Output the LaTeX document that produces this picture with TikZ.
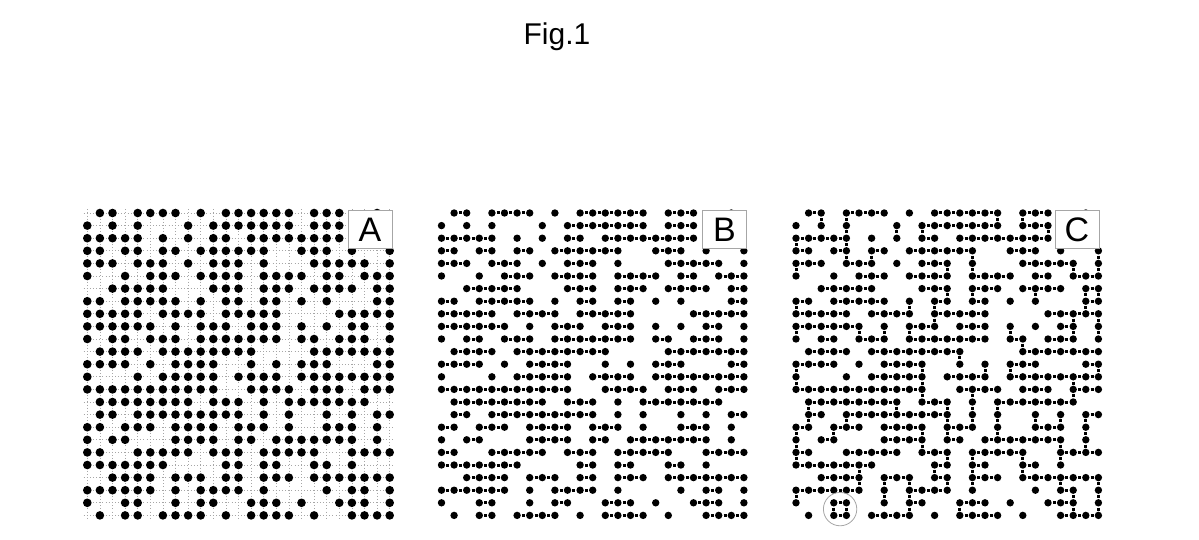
\documentclass[tikz,border=0pt]{standalone}
\usepackage{fontspec}
\setmainfont{Liberation Sans}
\newcommand{\FL}{\fontsize{34}{40}\selectfont}
\newcommand{\FT}{\fontsize{30}{36}\selectfont}
% occupied sites, row/{first/last,...}
\newcommand{\runs}{0/{1/2,4/7,9/9,11/16,18/20,23/23},
1/{0/0,2/2,4/4,8/8,10/16,18/20},
2/{0/4,6/6,8/8,10/11,13/20},
3/{0/1,3/4,6/7,9/14,17/19,21/21,24/24},
4/{0/2,4/6,8/8,10/12,14/14,18/22,24/24},
5/{0/0,3/3,5/7,9/12,14/17,19/20,22/24},
6/{2/6,10/12,14/16,18/21,23/24},
7/{0/1,3/7,9/9,11/12,14/15,17/17,19/19,23/24},
8/{0/4,6/9,11/15,20/24},
9/{0/5,7/7,9/11,13/15,17/17,19/19,21/22,24/24},
10/{0/0,2/3,5/7,9/15,17/18,20/22,24/24},
11/{1/4,6/13,18/24},
12/{0/3,5/5,7/10,13/13,15/15,17/19,23/24},
13/{0/0,4/4,6/10,12/15,17/24},
14/{0/10,13/16,18/20,22/24},
15/{1/8,10/12,14/14,16/22},
16/{1/2,4/12,14/14,16/16,19/19,21/21,23/24},
17/{0/1,3/5,7/10,12/14,16/16,19/21,23/23},
18/{0/0,2/3,7/10,12/13,15/21,23/23},
19/{0/1,4/8,10/12,14/18,21/24},
20/{0/6,11/12,14/15,18/19,21/21},
21/{2/5,7/9,11/12,14/16,18/24},
22/{0/5,7/7,9/12,14/14,19/19,21/22,24/24},
23/{0/0,3/4,7/7,9/10,13/15,17/17,20/22,24/24},
24/{1/1,3/4,6/9,11/11,13/16,18/18,21/24}}
% vertical bonds in C, row/column of the upper site
\newcommand{\vbonds}{0/2,0/4,0/16,0/18,1/4,1/8,1/10,1/20,2/0,2/4,3/4,3/6,3/14,3/24,
4/0,4/12,4/14,4/22,4/24,6/12,6/14,6/19,6/23,6/24,7/0,7/9,7/11,7/23,
8/11,8/22,8/24,9/0,9/5,9/7,9/9,9/17,9/22,9/24,10/18,11/13,
12/0,12/10,12/15,12/17,12/24,13/0,13/10,13/22,14/10,14/14,14/22,
15/1,15/8,15/12,15/14,15/16,16/1,16/4,16/12,16/14,16/16,16/19,16/21,16/23,
17/0,17/3,17/10,17/12,17/16,17/23,18/0,18/10,18/21,18/23,
19/0,19/12,19/14,19/18,19/21,20/5,20/11,20/14,20/18,
21/5,21/7,21/9,21/12,21/14,21/21,21/24,22/0,22/7,22/9,22/22,22/24,
23/3,23/4,23/9,23/13,23/22,23/24}

\begin{document}
\begin{tikzpicture}[x=1pt,y=-1pt]
\tikzstyle{site}=[fill=black]
\tikzstyle{bond}=[black,line width=3pt,dash pattern=on 0pt off 4.8pt on 3pt off 4.8pt]
\tikzstyle{grid}=[gray!70,line width=0.7pt,dash pattern=on 0.7pt off 2.45pt]
\tikzstyle{labelbox}=[draw=gray!70,fill=white,line width=0.8pt,minimum width=44pt,minimum height=38pt,inner sep=0pt,font=\FL]

\useasboundingbox (0,0) rectangle (1199,540);

\node (title) at (557,37) {\FT Fig.1};

% A: lattice with occupied sites
\begin{scope}[shift={(87.3,213)},x=12.6pt,y=-12.6pt]
\foreach \i in {0,...,24} {
  \draw[grid] (\i,-0.3) -- (\i,24.3);
  \draw[grid] (-0.3,\i) -- (24.3,\i);
}
\foreach \r/\rr in \runs {
  \foreach \a/\b in \rr {
    \foreach \c in {\a,...,\b} \fill[site] (\c,\r) circle (4.3pt);
  }
}
\end{scope}

% B: horizontal bonds
\begin{scope}[shift={(441.5,213)},x=12.6pt,y=-12.6pt]
\foreach \r/\rr in \runs {
  \foreach \a/\b in \rr {
    \draw[bond] (\a,\r) -- (\b,\r);
    \foreach \c in {\a,...,\b} \fill[site] (\c,\r) circle (3.7pt);
  }
}
\end{scope}

% C: horizontal and vertical bonds
\begin{scope}[shift={(796,213)},x=12.6pt,y=-12.6pt]
\foreach \r/\c in \vbonds \draw[bond] (\c,\r) -- (\c,{\r+1});
\foreach \r/\rr in \runs {
  \foreach \a/\b in \rr {
    \draw[bond] (\a,\r) -- (\b,\r);
    \foreach \c in {\a,...,\b} \fill[site] (\c,\r) circle (3.7pt);
  }
}
\draw[gray!70,line width=0.8pt] (3.5,23.5) circle (16.7pt);
\end{scope}

\node[labelbox] (boxA) at (370,229.5) {A};
\node[labelbox] (boxB) at (724.5,229.5) {B};
\node[labelbox] (boxC) at (1077,229.5) {C};
\end{tikzpicture}
\end{document}
